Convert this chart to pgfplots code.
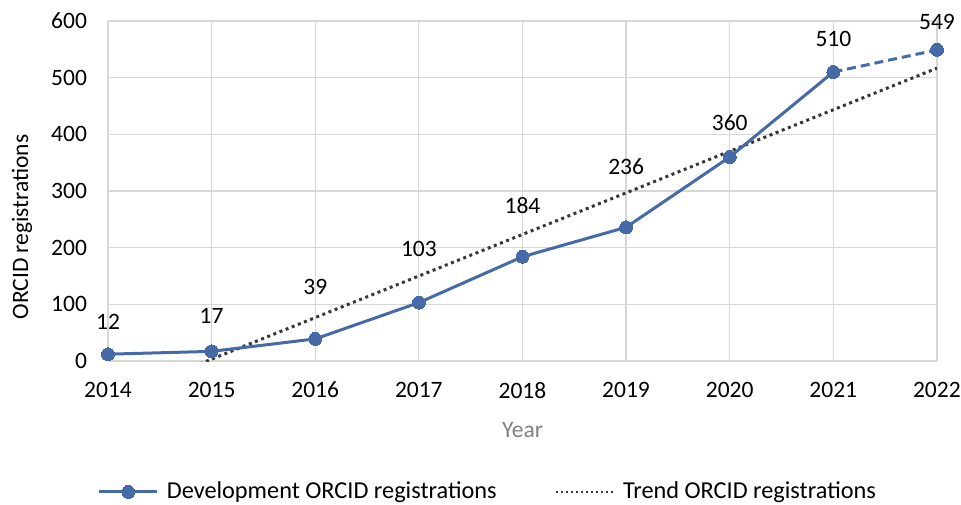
\documentclass[border=0pt]{standalone}
\usepackage{pgfplots}
\usepackage{pgfplotstable}
\pgfplotsset{compat=1.18}
\usepackage{fontspec}
\setmainfont{Carlito}
\definecolor{lineblue}{RGB}{70,106,167}
\definecolor{trendgray}{RGB}{55,55,55}
\definecolor{gridgray}{RGB}{217,215,211}
\definecolor{labelgray}{RGB}{128,128,128}
% year, registrations, label offset (bp above the point)
\pgfplotstableread{
x     y    off
2014  12   24.5
2015  17   27.5
2016  39   44.5
2017  103  46.5
2018  184  43.5
2019  236  52.5
2020  360  26.5
2021  510  25.5
2022  549  20.5
}\orcid
\pgfplotstableread{
x     y
2014  -70.1
2022  516.8
}\trend
\newcommand\fs{\fontsize{23.5bp}{28bp}\selectfont}
\begin{document}
\fs
\begin{tikzpicture}
\begin{axis}[
    scale only axis,
    width=829bp, height=340bp,
    xmin=2014, xmax=2022, ymin=0, ymax=600,
    xtick={2014,...,2022}, ytick={0,100,...,600},
    /pgf/number format/1000 sep={},
    /pgf/number format/assume math mode=true,
    tick style={draw=none},
    axis line style={draw=none},
    grid=major,
    major grid style={color=gridgray, line width=1.3bp},
    tick label style={font=\fs},
    yticklabel style={xshift=-13bp},
    xticklabel style={yshift=-13bp},
    label style={font=\fs},
    ylabel={ORCID registrations},
    ylabel style={at={(axis description cs:-0.1037,0.394)}, anchor=center},
    xlabel={Year},
    xlabel style={text=labelgray, at={(axis description cs:0.5,0)}, yshift=-69bp, anchor=center},
    legend style={at={(0.457,-0.385)}, anchor=center, draw=none, fill=none,
        font=\fontsize{24.3bp}{29bp}\selectfont,
        nodes={inner sep=0pt},
        /tikz/every odd column/.append style={column sep=8bp},
        /tikz/every even column/.append style={column sep=58bp}},
    legend columns=2,
    legend cell align=left,
    legend image code/.code={
        \draw[mark repeat=2,mark phase=2,#1] plot coordinates {(0bp,0bp) (29bp,0bp) (58bp,0bp)};},
]
% trend line (linear fit)
\addplot[forget plot, color=trendgray, line width=3bp, dash pattern=on 3bp off 3.6bp]
    table[x=x, y=y] {\trend};
% solid part 2014-2021
\addplot[forget plot, color=lineblue, line width=3bp, skip coords between index={8}{9}]
    table[x=x, y=y] {\orcid};
% dashed last segment 2021-2022
\addplot[forget plot, color=lineblue, line width=3bp, dash pattern=on 9bp off 5bp,
    skip coords between index={0}{7}]
    table[x=x, y=y] {\orcid};
% markers and labels
\addplot[forget plot, only marks, color=lineblue, mark=*, mark size=6.5bp,
    mark options={fill=lineblue, line width=0pt},
    visualization depends on={\thisrow{off}\as\off},
    nodes near coords,
    every node near coord/.append style={font=\fs, text=black, inner sep=0pt,
        anchor=base, yshift=\off bp},
    point meta=explicit symbolic]
    table[x=x, y=y, meta=y] {\orcid};
\addlegendimage{color=lineblue, line width=3bp, mark=*, mark size=6.5bp,
    mark options={fill=lineblue, line width=0pt}}
\addlegendentry{Development ORCID registrations}
\addlegendimage{color=trendgray, line width=2.4bp, dash pattern=on 2.4bp off 2.6bp}
\addlegendentry{Trend ORCID registrations}
\end{axis}
\pgfresetboundingbox
\path (current axis.south west) ++(-108bp,-144bp) rectangle ++(961bp,505bp);
\end{tikzpicture}
\end{document}
